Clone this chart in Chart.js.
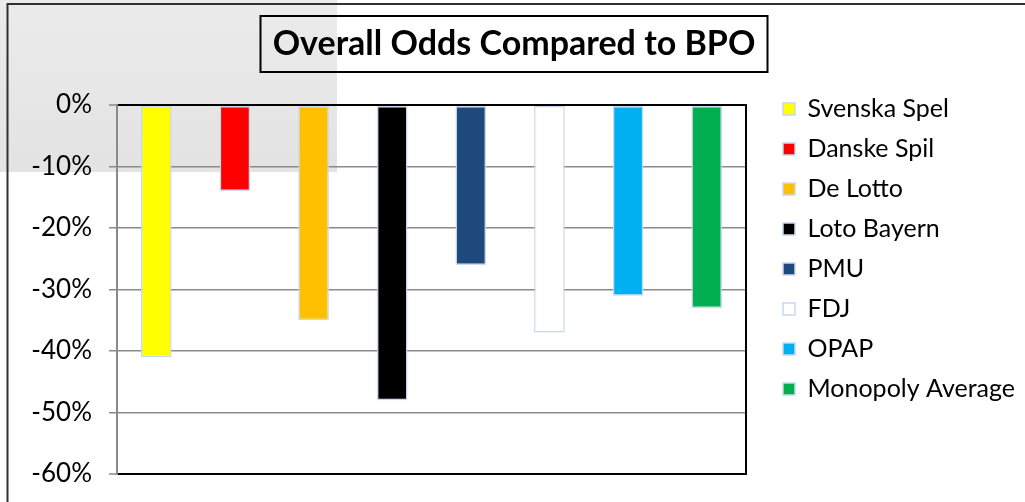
<!DOCTYPE html>
<html>
<head>
<meta charset="utf-8">
<script src="https://cdn.jsdelivr.net/npm/chart.js@4/dist/chart.umd.min.js"></script>
<style>
  html, body { margin: 0; padding: 0; background: #ffffff; }
  #wrap { position: relative; width: 1025px; height: 502px; }
</style>
</head>
<body>
<div id="wrap"><canvas id="c" width="1025" height="502"></canvas></div>
<script>
// ---- data ----
const chartTitle = 'Overall Odds Compared to BPO';
const categories = [''];
const seriesNames = ['Svenska Spel', 'Danske Spil', 'De Lotto', 'Loto Bayern', 'PMU', 'FDJ', 'OPAP', 'Monopoly Average'];
const seriesValues = [-41, -14, -35, -48, -26, -37, -31, -33];
const tickValues = [0, -10, -20, -30, -40, -50, -60];

// ---- styles ----
const seriesColors = ['#FFFF00', '#FF0000', '#FFC000', '#000000', '#1F497D', '#FFFFFF', '#00B0F0', '#00B050'];
const FONT = 'Lato';

Chart.defaults.color = '#000000';
Chart.defaults.font.family = FONT;

const backdrop = {
  id: 'backdrop',
  beforeDraw(chart) {
    const ctx = chart.ctx;
    ctx.save();
    const g = ctx.createLinearGradient(0, 0, 0, 172);
    g.addColorStop(0, '#ebebeb');
    g.addColorStop(1, '#e3e3e3');
    ctx.fillStyle = g;
    ctx.fillRect(0, 0, 337, 172);
    ctx.strokeStyle = '#303030';
    ctx.lineWidth = 2;
    ctx.beginPath();
    ctx.moveTo(7.5, chart.height + 2);
    ctx.lineTo(7.5, 4);
    ctx.lineTo(chart.width + 2, 4);
    ctx.stroke();
    ctx.restore();
  },
  afterDraw(chart) {
    const t = chart.titleBlock;
    const o = t.options;
    const ctx = chart.ctx;
    ctx.save();
    ctx.font = 'bold ' + o.font.size + 'px ' + FONT;
    const w = ctx.measureText(chartTitle).width;
    const cx = (t.left + t.right) / 2;
    const cy = t.top + o.padding.top + o.font.size * 1.2 / 2;
    ctx.strokeStyle = '#000000';
    ctx.lineWidth = 2;
    ctx.strokeRect(Math.round(cx - w / 2 - 13) + 0.5, Math.round(cy - 28), Math.round(w + 24), 56);
    ctx.restore();
  }
};

const datasets = seriesNames.map((name, i) => ({
  label: name,
  data: [seriesValues[i]],
  backgroundColor: seriesColors[i],
  borderColor: '#C6D9F1',
  borderWidth: 1.5,
  borderSkipped: false,
  categoryPercentage: 1,
  barPercentage: 0.39,
  yAxisID: 'y'
}));

new Chart(document.getElementById('c'), {
  type: 'bar',
  data: { labels: categories, datasets },
  plugins: [backdrop],
  options: {
    responsive: false,
    animation: false,
    layout: { padding: { left: 3, right: 0, top: 0, bottom: 4 } },
    plugins: {
      title: {
        display: true,
        text: chartTitle,
        color: '#000000',
        font: { family: FONT, size: 34, weight: 'bold' },
        padding: { top: 23.6, bottom: 40.6 }
      },
      legend: {
        display: true,
        position: 'right',
        align: 'center',
        maxWidth: 400,
        labels: {
          boxWidth: 12,
          boxHeight: 12,
          padding: 15,
          color: '#000000',
          font: { family: FONT, size: 25 }
        }
      },
      tooltip: { enabled: false }
    },
    scales: {
      x: {
        display: true,
        grid: { display: false },
        border: { display: false },
        ticks: { display: false },
        afterFit(s) { s.height = 24; }
      },
      y: {
        position: 'left',
        min: tickValues[tickValues.length - 1],
        max: tickValues[0],
        afterBuildTicks(s) { s.ticks = tickValues.map(v => ({ value: v })); },
        ticks: {
          padding: 17,
          color: '#000000',
          font: { family: FONT, size: 26 },
          callback: v => v + '%'
        },
        grid: {
          color: ctx => (ctx.tick && (ctx.tick.value === 0 || ctx.tick.value === -60)) ? '#000000' : '#8a8a8a',
          lineWidth: ctx => (ctx.tick && (ctx.tick.value === 0 || ctx.tick.value === -60)) ? 2 : 1.5,
          tickColor: '#8a8a8a',
          tickLength: 8,
          tickWidth: 1.5
        },
        border: { display: true, color: '#8a8a8a', width: 2 },
        afterFit(s) { s.width = 114; s.paddingTop = 10; s.paddingBottom = 10; }
      },
      yR: {
        position: 'right',
        display: true,
        grid: { display: false },
        ticks: { display: false },
        border: { display: true, color: '#000000', width: 2 },
        afterFit(s) { s.width = 22; s.paddingTop = 0; s.paddingBottom = 0; }
      }
    }
  }
});
</script>
</body>
</html>
